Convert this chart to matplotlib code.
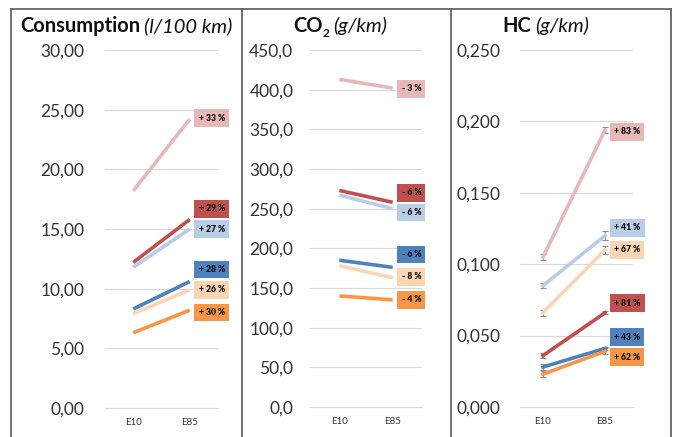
import matplotlib
matplotlib.use('Agg')
import matplotlib.pyplot as plt
from matplotlib.lines import Line2D
from matplotlib.ticker import FuncFormatter

plt.rcParams['font.family'] = ['Lato', 'DejaVu Sans']

fuels = ['E10', 'E85']
# series order: pink, dark red, light blue, blue, peach, orange
colors = ['#E6B9B8', '#C0504D', '#B9CDE5', '#4F81BD', '#FCD5B5', '#F79646']

cons_e10 = [18.2, 12.2, 11.8, 8.3, 7.9, 6.3]
cons_e85 = [24.2, 15.8, 15.0, 10.6, 9.9, 8.2]
cons_pct = ['+ 33 %', '+ 29 %', '+ 27 %', '+ 28 %', '+ 26 %', '+ 30 %']
cons_lab = [24.3, 16.7, 15.0, 11.6, 9.9, 8.0]

co2_e10 = [413, 273, 267, 185, 178, 140]
co2_e85 = [402, 258, 250, 176, 163, 135]
co2_pct = ['- 3 %', '- 6 %', '- 6 %', '- 6 %', '- 8 %', '- 4 %']
co2_lab = [401, 270, 245, 192, 164, 135]

hc_e10 = [0.105, 0.036, 0.085, 0.028, 0.066, 0.023]
hc_e85 = [0.194, 0.066, 0.120, 0.041, 0.110, 0.039]
hc_err_e10 = [0.002, 0.002, 0.002, 0.002, 0.002, 0.002]
hc_err_e85 = [0.002, 0.001, 0.003, 0.001, 0.003, 0.002]
hc_pct = ['+ 83 %', '+ 81 %', '+ 41 %', '+ 43 %', '+ 67 %', '+ 62 %']
hc_lab = [0.1926, 0.0728, 0.1254, 0.049, 0.110, 0.035]

W, H = 677, 437
fig = plt.figure(figsize=(W / 100, H / 100), dpi=100)


def px_axes(x0, x1, y0, y1):
    return fig.add_axes([x0 / W, 1 - y1 / H, (x1 - x0) / W, (y1 - y0) / H])


def panel(ax, e10, e85, pct, lab, ymax, step, fmt, xlim, pad, err=None):
    for i, c in enumerate(colors):
        if err is None:
            ax.plot([0, 1], [e10[i], e85[i]], color=c, lw=2.6,
                    solid_capstyle='butt', zorder=3)
        else:
            ax.errorbar([0, 1], [e10[i], e85[i]],
                        yerr=[err[0][i], err[1][i]], color=c, lw=2.6,
                        ecolor='#8c8c8c', elinewidth=0.8, capsize=2.5,
                        capthick=0.8, zorder=3)
        ax.annotate(pct[i], xy=(1, lab[i]), xytext=(9, 0),
                    textcoords='offset pixels', ha='left', va='center',
                    fontsize=6.2, fontweight='heavy', color='#111111',
                    annotation_clip=False,
                    bbox=dict(boxstyle='square,pad=0.5', fc=c, ec='none'))
    ax.set_ylim(0, ymax)
    ax.set_xlim(*xlim)
    ax.set_yticks([step * k for k in range(int(round(ymax / step)) + 1)])
    ax.yaxis.set_major_formatter(FuncFormatter(
        lambda v, p: format(v, fmt).replace('.', ',')))
    ax.set_xticks([0, 1])
    ax.set_xticklabels(fuels, fontsize=7, color='#333333')
    ax.tick_params(axis='y', length=0, pad=pad, labelsize=12.5,
                   labelcolor='#333333')
    ax.tick_params(axis='x', length=0, pad=7)
    ax.grid(axis='y', color='#D9D9D9', lw=0.8)
    ax.set_axisbelow(True)
    for s in ['top', 'right', 'left']:
        ax.spines[s].set_visible(False)
    ax.spines['bottom'].set_color('#D9D9D9')
    ax.set_facecolor('none')


ax1 = px_axes(105, 218, 50, 408)
panel(ax1, cons_e10, cons_e85, cons_pct, cons_lab, 30, 5, '.2f',
      (-0.5, 1.5), 15)

ax2 = px_axes(310, 422, 50, 407)
panel(ax2, co2_e10, co2_e85, co2_pct, co2_lab, 450, 50, '.1f',
      (-0.55, 1.55), 12)

ax3 = px_axes(520, 633, 50, 407)
panel(ax3, hc_e10, hc_e85, hc_pct, hc_lab, 0.25, 0.05, '.3f',
      (-0.37, 1.45), 14, err=(hc_err_e10, hc_err_e85))

# frame and dividers
frame = dict(color='#595959', lw=1.2, transform=fig.transFigure)
fig.add_artist(Line2D([11 / W, 671 / W], [1 - 9 / H, 1 - 9 / H], **frame))
for xp in [11, 242, 451, 671]:
    fig.add_artist(Line2D([xp / W, xp / W], [1 - 9 / H, 0], **frame))

# titles: pieces placed one after another, measured in pixels
renderer = fig.canvas.get_renderer()
styles = {
    'b': dict(fontsize=14.5, fontweight='bold'),
    'sub': dict(fontsize=8.5, fontweight='bold'),
    'i': dict(fontsize=14.5, fontstyle='italic'),
}
gaps = {'b': 0, 'sub': 0, 'i': 4}
shift = {'b': 0, 'sub': -5, 'i': 0}


def title(x, parts, y=32):
    first = True
    for txt, st in parts:
        if not first:
            x += gaps[st]
        first = False
        t = fig.text(x / W, 1 - (y - shift[st]) / H, txt, ha='left',
                     va='baseline', color='#111111', **styles[st])
        x = t.get_window_extent(renderer).x1


title(20, [('Consumption', 'b'), ('(l/100 km)', 'i')])
title(293, [('CO', 'b'), ('2', 'sub'), ('(g/km)', 'i')])
title(502, [('HC', 'b'), ('(g/km)', 'i')])

fig.savefig('out.png', dpi=100)
